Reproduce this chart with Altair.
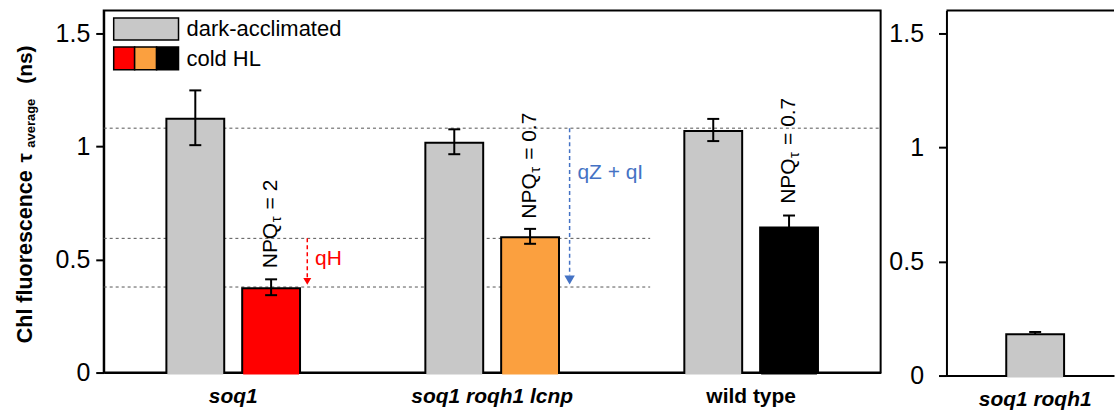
import altair as alt
import pandas as pd

FONT = "Liberation Sans"

# ---------------- data ----------------
groups = ["soq1", "soq1 roqh1 lcnp", "wild type"]
dark_values = [1.126, 1.020, 1.072]
dark_errors = [0.121, 0.055, 0.049]
cold_values = [0.377, 0.602, 0.646]
cold_errors = [0.035, 0.033, 0.048]
cold_keys = ["cold soq1", "cold lcnp", "cold wt"]
npq_values = ["2", "0.7", "0.7"]
npq_label_y = [0.461, 0.680, 0.746]

right_groups = ["soq1 roqh1"]
right_values = [0.185]
right_errors = [0.006]

ref_levels = [1.08, 0.593, 0.378]
ref_start = [0.0, 0.0, 0.0]
ref_end = [3.0, 2.11, 2.11]

arrow_labels = ["qH", "qZ + qI"]
arrow_x = [0.786, 1.799]
arrow_from = [0.593, 1.08]
arrow_to = [0.421, 0.43]
arrow_head = [0.403, 0.409]
label_x = [0.816, 1.829]
label_y = [0.474, 0.857]

y_ticks = [0, 0.5, 1, 1.5]

# ---------------- tables ----------------
bars = pd.DataFrame({
    "group": groups + groups,
    "cond": ["dark"] * 3 + ["cold"] * 3,
    "key": ["dark"] * 3 + cold_keys,
    "value": dark_values + cold_values,
    "err": dark_errors + cold_errors,
})
bars["lo"] = bars["value"] - bars["err"]
bars["hi"] = bars["value"] + bars["err"]

npq = pd.DataFrame({
    "group": groups,
    "cond": ["cold"] * 3,
    "y": npq_label_y,
    "rest": ["= " + v for v in npq_values],
})

refs = pd.DataFrame({"y": ref_levels, "x0": ref_start, "x1": ref_end})
arrows = pd.DataFrame({
    "label": arrow_labels, "x": arrow_x, "y0": arrow_from, "y1": arrow_to,
    "yh": arrow_head, "lx": label_x, "ly": label_y,
})
one = pd.DataFrame({"a": [0]})

rdf = pd.DataFrame({"group": right_groups, "value": right_values, "err": right_errors})
rdf["lo"] = rdf["value"] - rdf["err"]
rdf["hi"] = rdf["value"] + rdf["err"]

# ---------------- scales / axes ----------------
W, H = 779, 363
RW, RH = 168, 366
OUTER, INNER = 60, 56   # bar width with and without its black outline
yscale = alt.Scale(domain=[0, 1.6], nice=False, zero=True)


def yaxis(pad):
    return alt.Axis(values=y_ticks, format="~g", labelFontSize=25, labelFont=FONT,
                    labelPadding=pad, tickSize=8, tickWidth=2, tickColor="black",
                    domainColor="black", domainWidth=2, labelColor="black",
                    grid=False, title=None)


def Y(field, pad=6):
    return alt.Y(field, type="quantitative", scale=yscale, axis=yaxis(pad))


xaxis_left = alt.Axis(
    title=None, labelAngle=0, ticks=False, tickSize=0, domainColor="black",
    domainWidth=2, labelFontSize=21, labelFont=FONT, labelFontWeight="bold",
    labelFontStyle={"condition": {"test": "datum.value === 'wild type'", "value": "normal"},
                    "value": "italic"},
    labelPadding=13, labelColor="black")
xnom = alt.X("group:N", sort=groups,
             scale=alt.Scale(domain=groups, paddingInner=0, paddingOuter=0),
             axis=xaxis_left)
xoff = alt.XOffset("cond:N", sort=["dark", "cold"],
                   scale=alt.Scale(domain=["dark", "cold"], paddingInner=0.2237,
                                   paddingOuter=0.82))
qscale = alt.Scale(domain=[0, 3], nice=False, zero=False)


def XQ(field):
    return alt.X(field, type="quantitative", scale=qscale, axis=None)


fill = alt.Color("key:N", scale=alt.Scale(domain=["dark"] + cold_keys,
                                          range=["#c8c8c8", "#ff0000", "#fba03f", "#000000"]),
                 legend=None)

# ---------------- left panel ----------------
ref_layer = alt.Chart(refs).mark_rule(color="#555555", strokeWidth=1, strokeDash=[3, 3]).encode(
    x=XQ("x0"), x2="x1", y=Y("y"))

bbase = alt.Chart(bars)
bar_outline = bbase.mark_bar(color="#000000", size=OUTER, opacity=1).encode(
    x=xnom, xOffset=xoff, y=Y("value"))
bar_layer = bbase.mark_bar(size=INNER, yOffset=2, opacity=1).encode(
    x=xnom, xOffset=xoff, y=Y("value"), color=fill)
err_rule = bbase.mark_rule(color="black", strokeWidth=2).encode(
    x=xnom, xOffset=xoff, y=Y("lo"), y2="hi")
cap_lo = bbase.mark_tick(color="black", thickness=2, size=12, orient="horizontal", opacity=1).encode(
    x=xnom, xOffset=xoff, y=Y("lo"))
cap_hi = bbase.mark_tick(color="black", thickness=2, size=12, orient="horizontal", opacity=1).encode(
    x=xnom, xOffset=xoff, y=Y("hi"))

nbase = alt.Chart(npq).encode(x=xnom, xOffset=xoff, y=Y("y"))
npq1 = nbase.mark_text(angle=270, align="left", baseline="middle", fontSize=21,
                       font=FONT, color="black", text="NPQ")
npq2 = nbase.mark_text(angle=270, align="left", baseline="middle", fontSize=15,
                       font=FONT, color="black", text="τ", dx=46, dy=5)
npq3 = nbase.mark_text(angle=270, align="left", baseline="middle", fontSize=21,
                       font=FONT, color="black", dx=59).encode(text="rest:N")

nominal = alt.layer(bar_outline, bar_layer, err_rule, cap_lo, cap_hi, npq1, npq2, npq3)

abase = alt.Chart(arrows)
red = abase.transform_filter("datum.label === 'qH'")
blue = abase.transform_filter("datum.label !== 'qH'")
RED, BLUE = "#ff0000", "#4472c4"
red_line = red.mark_rule(color=RED, strokeWidth=1.5, strokeDash=[4, 3]).encode(
    x=XQ("x"), y=Y("y0"), y2="y1")
red_head = red.mark_point(shape="triangle-down", filled=True, size=64, color=RED, opacity=1).encode(
    x=XQ("x"), y=Y("yh"))
red_text = red.mark_text(align="left", baseline="alphabetic", fontSize=21, font=FONT, color=RED).encode(
    x=XQ("lx"), y=Y("ly"), text="label:N")
blue_line = blue.mark_rule(color=BLUE, strokeWidth=1.5, strokeDash=[4, 3]).encode(
    x=XQ("x"), y=Y("y0"), y2="y1")
blue_head = blue.mark_point(shape="triangle-down", filled=True, size=110, color=BLUE, opacity=1).encode(
    x=XQ("x"), y=Y("yh"))
blue_text = blue.mark_text(align="left", baseline="alphabetic", fontSize=21, font=FONT, color=BLUE).encode(
    x=XQ("lx"), y=Y("ly"), text="label:N")

ob = alt.Chart(one)
leg_gray = ob.mark_rect(fill="#c8c8c8", stroke="black", strokeWidth=1.5).encode(
    x=alt.value(10), x2=alt.value(75), y=alt.value(7.5), y2=alt.value(29.5))
leg_red = ob.mark_rect(fill="#ff0000", stroke="black", strokeWidth=1.5).encode(
    x=alt.value(10), x2=alt.value(31), y=alt.value(36.5), y2=alt.value(59.5))
leg_org = ob.mark_rect(fill="#fba03f", stroke="black", strokeWidth=1.5).encode(
    x=alt.value(31), x2=alt.value(53), y=alt.value(36.5), y2=alt.value(59.5))
leg_blk = ob.mark_rect(fill="#000000", stroke="black", strokeWidth=1.5).encode(
    x=alt.value(53), x2=alt.value(75), y=alt.value(36.5), y2=alt.value(59.5))
leg_t1 = ob.mark_text(align="left", baseline="alphabetic", fontSize=22, font=FONT,
                      color="black", text="dark-acclimated").encode(
    x=alt.value(83), y=alt.value(25.5))
leg_t2 = ob.mark_text(align="left", baseline="alphabetic", fontSize=22, font=FONT,
                      color="black", text="cold HL").encode(
    x=alt.value(83), y=alt.value(55.5))


def title_piece(text, size, dx, dy=0):
    return ob.mark_text(angle=270, align="left", baseline="alphabetic", fontSize=size,
                        fontWeight="bold", font=FONT, color="black", text=text,
                        dx=dx, dy=dy).encode(x=alt.value(-72), y=alt.value(333.5))


ttl_main = title_piece("Chl fluorescence", 21.5, 0)
ttl_tau = title_piece("τ", 21, 181)
ttl_sub = title_piece("average", 13, 196, 3)
ttl_ns = title_piece("(ns)", 21, 260)

ann = alt.layer(red_line, red_head, red_text, blue_line, blue_head, blue_text,
                leg_gray, leg_red, leg_org, leg_blk, leg_t1, leg_t2,
                ttl_main, ttl_tau, ttl_sub, ttl_ns)

left = alt.layer(ref_layer, nominal, ann).resolve_scale(x="independent").properties(
    width=W, height=H)

# ---------------- right panel ----------------
xaxis_right = alt.Axis(title=None, labelAngle=0, ticks=False, tickSize=0, domainColor="black",
                       domainWidth=2, labelFontSize=21, labelFont=FONT, labelFontWeight="bold",
                       labelFontStyle="italic", labelPadding=13, labelColor="black")
xr = alt.X("group:N", scale=alt.Scale(domain=right_groups, paddingInner=0,
                                      paddingOuter=0.948, align=0.545), axis=xaxis_right)
rbase = alt.Chart(rdf)
rbar_outline = rbase.mark_bar(color="#000000", size=OUTER, opacity=1).encode(
    x=xr, y=Y("value", 15))
rbar = rbase.mark_bar(color="#c8c8c8", size=INNER, yOffset=2, opacity=1).encode(
    x=xr, y=Y("value", 15))
rrule = rbase.mark_rule(color="black", strokeWidth=2).encode(x=xr, y=Y("lo", 15), y2="hi")
rcap = rbase.mark_tick(color="black", thickness=2, size=12, orient="horizontal", opacity=1).encode(
    x=xr, y=Y("hi", 15))
rtop = alt.Chart(one).mark_rule(color="black", strokeWidth=2).encode(
    x=alt.value(0), x2=alt.value(RW), y=alt.value(0))

right = alt.layer(rbar_outline, rbar, rrule, rcap, rtop).properties(
    width=RW, height=RH, view=alt.ViewBackground(stroke="transparent"))

chart = alt.hconcat(left, right, spacing=5).properties(
    padding={"left": 13, "top": 8, "right": 0, "bottom": 0}
).configure_view(stroke="black", strokeWidth=2).configure_axis(grid=False)

chart.save("out.html", embed_options={"renderer": "svg", "actions": False})
